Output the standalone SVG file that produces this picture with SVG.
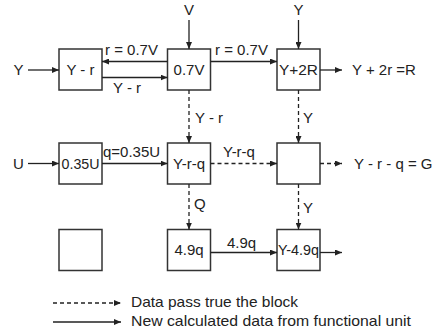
<svg xmlns="http://www.w3.org/2000/svg" width="435" height="335" viewBox="0 0 435 335">
<defs>
<marker id="ah" markerUnits="userSpaceOnUse" markerWidth="8" markerHeight="6" refX="7" refY="3" orient="auto">
<path d="M0,0 L7,3 L0,6 z" fill="#222"/>
</marker>
<style>
text{font-family:"Liberation Sans",Arial,sans-serif;font-size:15px;fill:#222}
.box{fill:#fff;stroke:#333;stroke-width:1.5}
.c{text-anchor:middle}
.s{fill:none;stroke:#222;stroke-width:1.3;marker-end:url(#ah)}
.d{fill:none;stroke:#222;stroke-width:1.3;stroke-dasharray:4 3;marker-end:url(#ah)}
</style>
</defs>
<rect width="435" height="335" fill="#fff"/>

<g id="n-yr"><rect class="box" x="59" y="49" width="43" height="41"/><text class="c" x="80.5" y="75">Y - r</text></g>
<g id="n-07v"><rect class="box" x="167.5" y="49" width="43" height="41"/><text class="c" x="189" y="75">0.7V</text></g>
<g id="n-y2r"><rect class="box" x="277" y="49" width="43" height="41"/><text class="c" x="298.5" y="75" textLength="39" lengthAdjust="spacingAndGlyphs">Y+2R</text></g>
<g id="n-035u"><rect class="box" x="59" y="143" width="43" height="41"/><text class="c" x="80.5" y="169" textLength="38" lengthAdjust="spacingAndGlyphs">0.35U</text></g>
<g id="n-yrq"><rect class="box" x="167.5" y="143" width="43" height="41"/><text class="c" x="189" y="169">Y-r-q</text></g>
<g id="n-empty2"><rect class="box" x="277" y="143" width="43" height="41"/></g>
<g id="n-empty3"><rect class="box" x="59" y="229.5" width="43" height="41"/></g>
<g id="n-49q"><rect class="box" x="167.5" y="229.5" width="43" height="41"/><text class="c" x="189" y="255">4.9q</text></g>
<g id="n-y49q"><rect class="box" x="277" y="229.5" width="43" height="41"/><text class="c" x="298.5" y="255" textLength="41" lengthAdjust="spacingAndGlyphs">Y-4.9q</text></g>

<g id="connectors">
<line class="s" x1="28" y1="70" x2="59" y2="70"/>
<line class="s" x1="167.5" y1="61.5" x2="102" y2="61.5"/>
<line class="s" x1="102" y1="77.5" x2="167.5" y2="77.5"/>
<line class="s" x1="189" y1="20" x2="189" y2="49"/>
<line class="s" x1="210.5" y1="61.5" x2="277" y2="61.5"/>
<line class="s" x1="298.5" y1="20" x2="298.5" y2="49"/>
<line class="s" x1="320" y1="70" x2="342" y2="70"/>
<line class="d" x1="189" y1="90" x2="189" y2="143"/>
<line class="d" x1="298.5" y1="90" x2="298.5" y2="143"/>
<line class="s" x1="28" y1="163.5" x2="59" y2="163.5"/>
<line class="s" x1="102" y1="163.5" x2="167.5" y2="163.5"/>
<line class="d" x1="210.5" y1="163.5" x2="277" y2="163.5"/>
<line class="d" x1="320" y1="163.5" x2="342" y2="163.5"/>
<line class="d" x1="189" y1="184" x2="189" y2="229.5"/>
<line class="d" x1="298.5" y1="184" x2="298.5" y2="229.5"/>
<line class="s" x1="210.5" y1="252.5" x2="277" y2="252.5"/>
<line class="s" x1="320" y1="252.5" x2="342" y2="252.5"/>
</g>

<g id="labels">
<text class="c" x="18.5" y="75">Y</text>
<text x="105" y="54.5">r = 0.7V</text>
<text x="113" y="92.5">Y - r</text>
<text class="c" x="189" y="15">V</text>
<text x="215" y="54.5">r = 0.7V</text>
<text class="c" x="298.5" y="15">Y</text>
<text x="352" y="75">Y + 2r =R</text>
<text x="195" y="122.5">Y - r</text>
<text x="303" y="122.5">Y</text>
<text class="c" x="18.5" y="169">U</text>
<text x="103" y="157">q=0.35U</text>
<text x="223" y="157">Y-r-q</text>
<text x="354" y="169">Y - r - q = G</text>
<text x="194" y="209">Q</text>
<text x="303" y="212.5">Y</text>
<text x="227" y="247.5">4.9q</text>
</g>

<g id="legend">
<line class="d" x1="53" y1="303" x2="121" y2="303"/>
<line class="s" x1="53" y1="322" x2="121" y2="322"/>
<text x="131" y="307" textLength="167" lengthAdjust="spacingAndGlyphs">Data pass true the block</text>
<text x="131" y="326" textLength="280" lengthAdjust="spacingAndGlyphs">New calculated data from functional unit</text>
</g>
</svg>
